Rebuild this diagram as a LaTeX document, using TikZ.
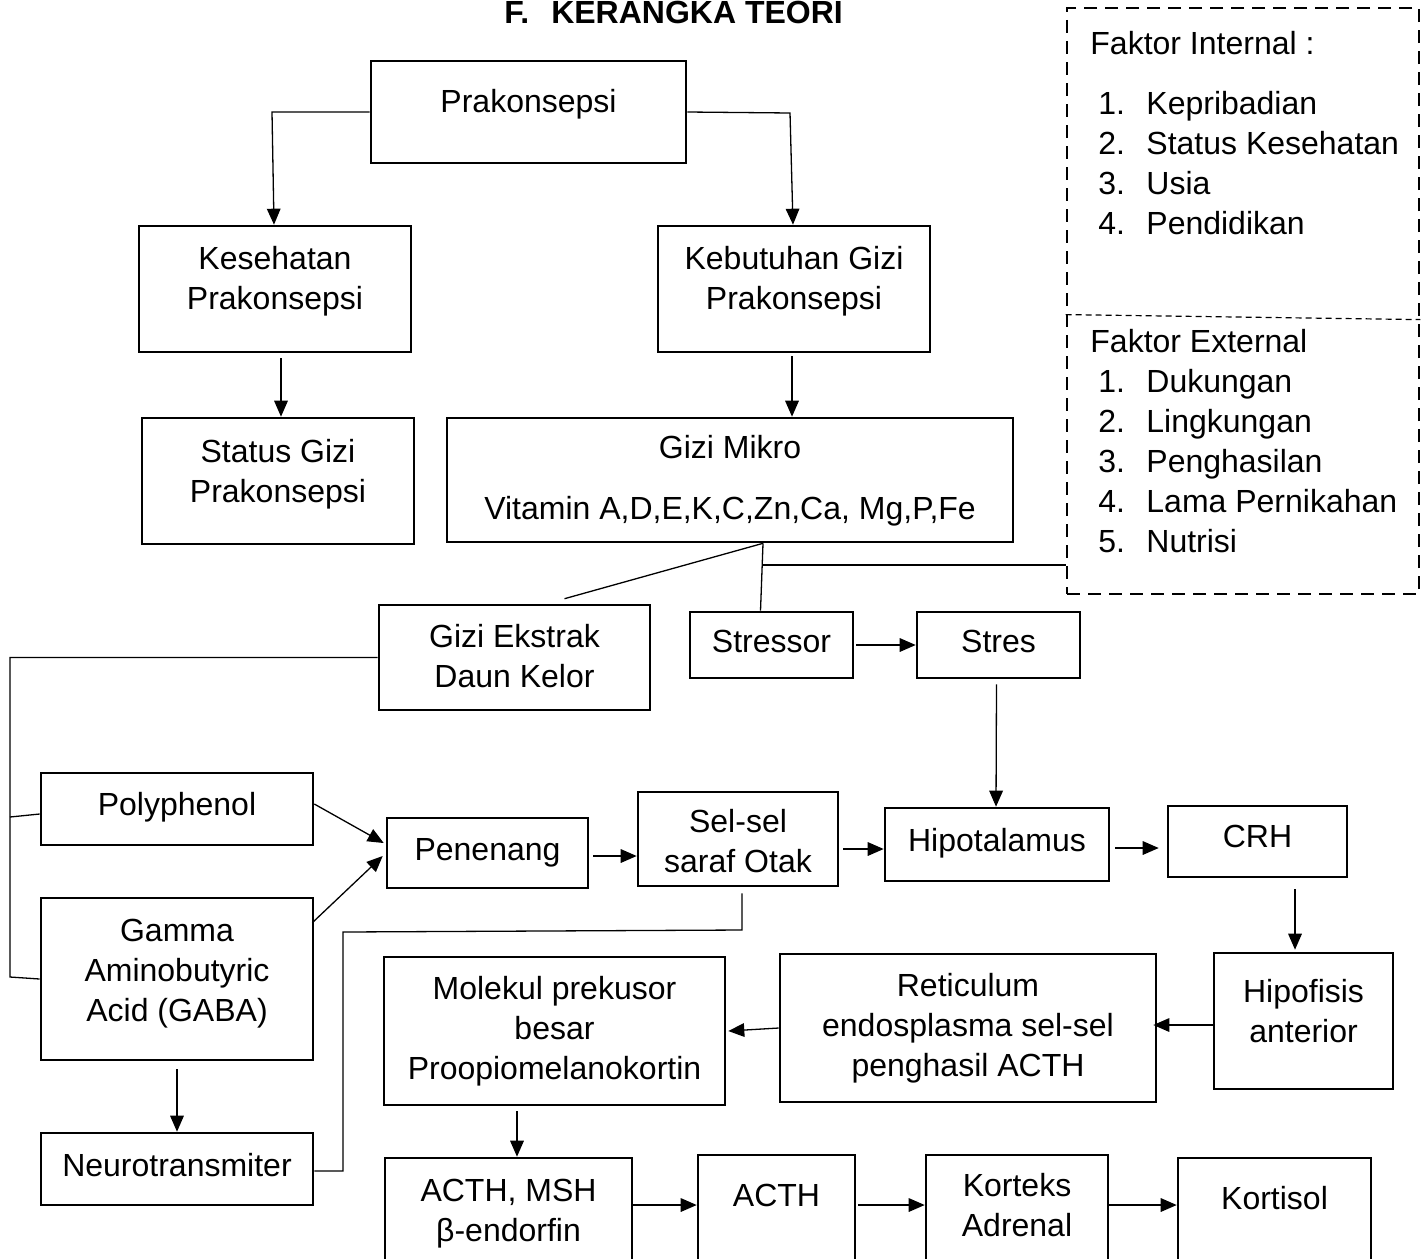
\documentclass[tikz,border=0pt]{standalone}
\usepackage{fontspec}
\setmainfont{Liberation Sans}
\usetikzlibrary{arrows.meta,fit,calc}
\begin{document}
\begin{tikzpicture}[x=0.5pt,y=-0.5pt,
  box/.style={draw, line width=1.3pt, inner sep=0pt, rectangle},
  txt/.style={font=\fontsize{16}{20}\selectfont, align=center, inner sep=0pt,
    execute at begin node=\strut, execute at end node=\strut},
  ftxt/.style={font=\fontsize{16}{20}\selectfont, align=left, inner sep=0pt,
    execute at begin node=\strut},
  con/.style={line width=0.65pt},
  arr/.style={con, -{Triangle[length=8pt,width=6.8pt]}},
]
\useasboundingbox (0,0) rectangle (1427,1258);
\fill[white] (0,0) rectangle (1427,1258);
\clip (0,0) rectangle (1427,1258);

% title
\node[anchor=base west, inner sep=0pt, font=\fontsize{16}{20}\selectfont\bfseries] (title) at (504,23) {F.\hspace{11pt}KERANGKA TEORI};

% boxes
\node[box, fit={(371,61) (686,163)}] (prak) {};
\node[txt] (prakT) at (528.5,104.5) {Prakonsepsi};
\node[box, fit={(139,226) (411,352)}] (kes) {};
\node[txt] (kesT) at (275,284) {Kesehatan\\Prakonsepsi};
\node[box, fit={(658,226) (930,352)}] (keb) {};
\node[txt] (kebT) at (794,284) {Kebutuhan Gizi\\Prakonsepsi};
\node[box, fit={(142,418) (414,544)}] (stat) {};
\node[txt] (statT) at (278,476.5) {Status Gizi\\Prakonsepsi};
\node[box, fit={(447,418) (1013,542)}] (mikro) {};
\node[txt] (mikroA) at (730,450.5) {Gizi Mikro};
\node[txt] (mikroB) at (730,511.5) {Vitamin A,D,E,K,C,Zn,Ca, Mg,P,Fe};

\node[box, fit={(379,605) (650,710)}] (ekstrak) {};
\node[txt] (ekstrakT) at (514.5,661.5) {Gizi Ekstrak\\Daun Kelor};
\node[box, fit={(690,612) (853,678)}] (stressor) {};
\node[txt] (stressorT) at (771.5,644.5) {Stressor};
\node[box, fit={(917,612) (1080,678)}] (stres) {};
\node[txt] (stresT) at (998.5,644.5) {Stres};

\node[box, fit={(41,773) (313,845)}] (poly) {};
\node[txt] (polyT) at (177,807.5) {Polyphenol};
\node[box, fit={(41,898) (313,1060)}] (gaba) {};
\node[txt] (gabaT) at (177,976.5) {Gamma\\Aminobutyric\\Acid (GABA)};
\node[box, fit={(41,1133) (313,1205)}] (neuro) {};
\node[txt] (neuroT) at (177,1168.5) {Neurotransmiter};

\node[box, fit={(387,818) (588,888)}] (pen) {};
\node[txt] (penT) at (487.5,852.5) {Penenang};
\node[box, fit={(638,792) (838,886)}] (sel) {};
\node[txt] (selT) at (738,846.5) {Sel-sel\\saraf Otak};
\node[box, fit={(885,808) (1109,881)}] (hipo) {};
\node[txt] (hipoT) at (997,843.5) {Hipotalamus};
\node[box, fit={(1168,806) (1347,877)}] (crh) {};
\node[txt] (crhT) at (1257.5,839.5) {CRH};

\node[box, fit={(1214,953) (1393,1089)}] (hipof) {};
\node[txt] (hipofT) at (1303.5,1016.5) {Hipofisis\\anterior};
\node[box, fit={(780,954) (1156,1102)}] (ret) {};
\node[txt] (retT) at (968,1030.5) {Reticulum\\endosplasma sel-sel\\penghasil ACTH};
\node[box, fit={(384,957) (725,1105)}] (mol) {};
\node[txt] (molT) at (554.5,1033.5) {Molekul prekusor\\besar\\Proopiomelanokortin};

\node[box, fit={(385,1158) (632,1290)}] (acthmsh) {};
\node[txt] (acthmshT) at (508.5,1216.5) {ACTH, MSH\\β-endorfin};
\node[box, fit={(698,1155) (855,1290)}] (acth) {};
\node[txt] (acthT) at (776.5,1198.5) {ACTH};
\node[box, fit={(926,1155) (1108,1290)}] (kort) {};
\node[txt] (kortT) at (1017,1210.5) {Korteks\\Adrenal};
\node[box, fit={(1178,1158) (1371,1290)}] (kortisol) {};
\node[txt] (kortisolT) at (1274.5,1201.5) {Kortisol};

% factor box
\node[draw, line width=1.4pt, dash pattern=on 6.5pt off 4pt, inner sep=0pt, fit={(1067,8) (1419,594)}] (fak) {};
\draw[line width=0.6pt, dash pattern=on 3pt off 2pt] ($(fak.north west)+(0,308)$) -- ($(fak.north east)+(0,313)$);
\node[ftxt, anchor=base west, execute at begin node={}] (fih) at (1090,54.5) {Faktor Internal :};
\node[ftxt, anchor=north west] (fil) at (1098,90.5) {\makebox[24pt][l]{1.}Kepribadian\\\makebox[24pt][l]{2.}Status Kesehatan\\\makebox[24pt][l]{3.}Usia\\\makebox[24pt][l]{4.}Pendidikan};
\node[ftxt, anchor=base west, execute at begin node={}] (feh) at (1090,352.5) {Faktor External};
\node[ftxt, anchor=north west] (fel) at (1098,368.5) {\makebox[24pt][l]{1.}Dukungan\\\makebox[24pt][l]{2.}Lingkungan\\\makebox[24pt][l]{3.}Penghasilan\\\makebox[24pt][l]{4.}Lama Pernikahan\\\makebox[24pt][l]{5.}Nutrisi};

% connectors
\coordinate (c1) at (272,112);
\draw[arr] (prak.west) -- (c1) -- ($(kes.north)+(-1,0)$);
\coordinate (c2) at (790,113);
\draw[arr] (prak.east) -- (c2) -- ($(keb.north)+(-1,0)$);
\draw[arr] ($(kes.south)+(6,5)$) -- ($(stat.north)+(3,0)$);
\draw[arr] ($(keb.south)+(-2,3)$) -- ($(mikro.north)+(62,0)$);

\coordinate (mb) at ($(mikro.south)+(33,0)$);
\draw[con] (mb) -- ($(ekstrak.north)+(50,-5)$);
\draw[con] (mb) -- ($(stressor.north)+(-11,0)$);
\coordinate (mj) at (762,565);
\draw[con] (mj) -- (mj -| fak.west);
\draw[arr] ($(stressor.east)+(2,0)$) -- (stres.west);
\draw[arr] ($(stres.south)+(-2,5)$) -- ($(hipo.north)+(-1,0)$);

\coordinate (l1) at (10,657.5);
\coordinate (l2) at (10,977);
\coordinate (l3) at (10,817);
\draw[con] (ekstrak.west) -- (l1) -- (l2) -- (gaba.west);
\draw[con] (l3) -- ($(poly.west)+(0,5)$);

\draw[arr] ($(poly.east)+(0,-5)$) -- ($(pen.west)+(-2,-10)$);
\draw[arr] ($(gaba.north east)+(-2,26)$) -- ($(pen.west)+(-3,3)$);
\draw[arr] ($(gaba.south)+(0,8)$) -- (neuro.north);

\coordinate (n1) at (343,1171);
\coordinate (n2) at (343,932);
\coordinate (n3) at (742,930);
\draw[con] ($(neuro.east)+(0,2)$) -- (n1) -- (n2) -- (n3) -- ($(sel.south)+(4,6)$);

\draw[arr] ($(pen.east)+(4,3)$) -- ($(sel.west)+(0,17)$);
\draw[arr] ($(sel.east)+(4,10)$) -- ($(hipo.west)+(0,4.5)$);
\draw[arr] ($(hipo.east)+(5,3.5)$) -- ($(crh.west)+(-8,6.5)$);
\draw[arr] ($(crh.south)+(37.5,11)$) -- ($(hipof.north)+(-8.5,-2)$);
\draw[arr] ($(hipof.west)+(0,4)$) -- ($(ret.east)+(-4,-3)$);
\draw[arr] (ret.west) -- ($(mol.east)+(2,0)$);
\draw[arr] ($(mol.south)+(-37.5,5)$) -- ($(acthmsh.north)+(8.5,0)$);
\draw[arr] ($(acthmsh.east)+(0,-19)$) -- ($(acth.west)+(0,-17.5)$);
\draw[arr] ($(acth.east)+(2,-17.5)$) -- ($(kort.west)+(0,-17.5)$);
\draw[arr] ($(kort.east)+(0,-17.5)$) -- ($(kortisol.west)+(0,-19)$);
\end{tikzpicture}
\end{document}
